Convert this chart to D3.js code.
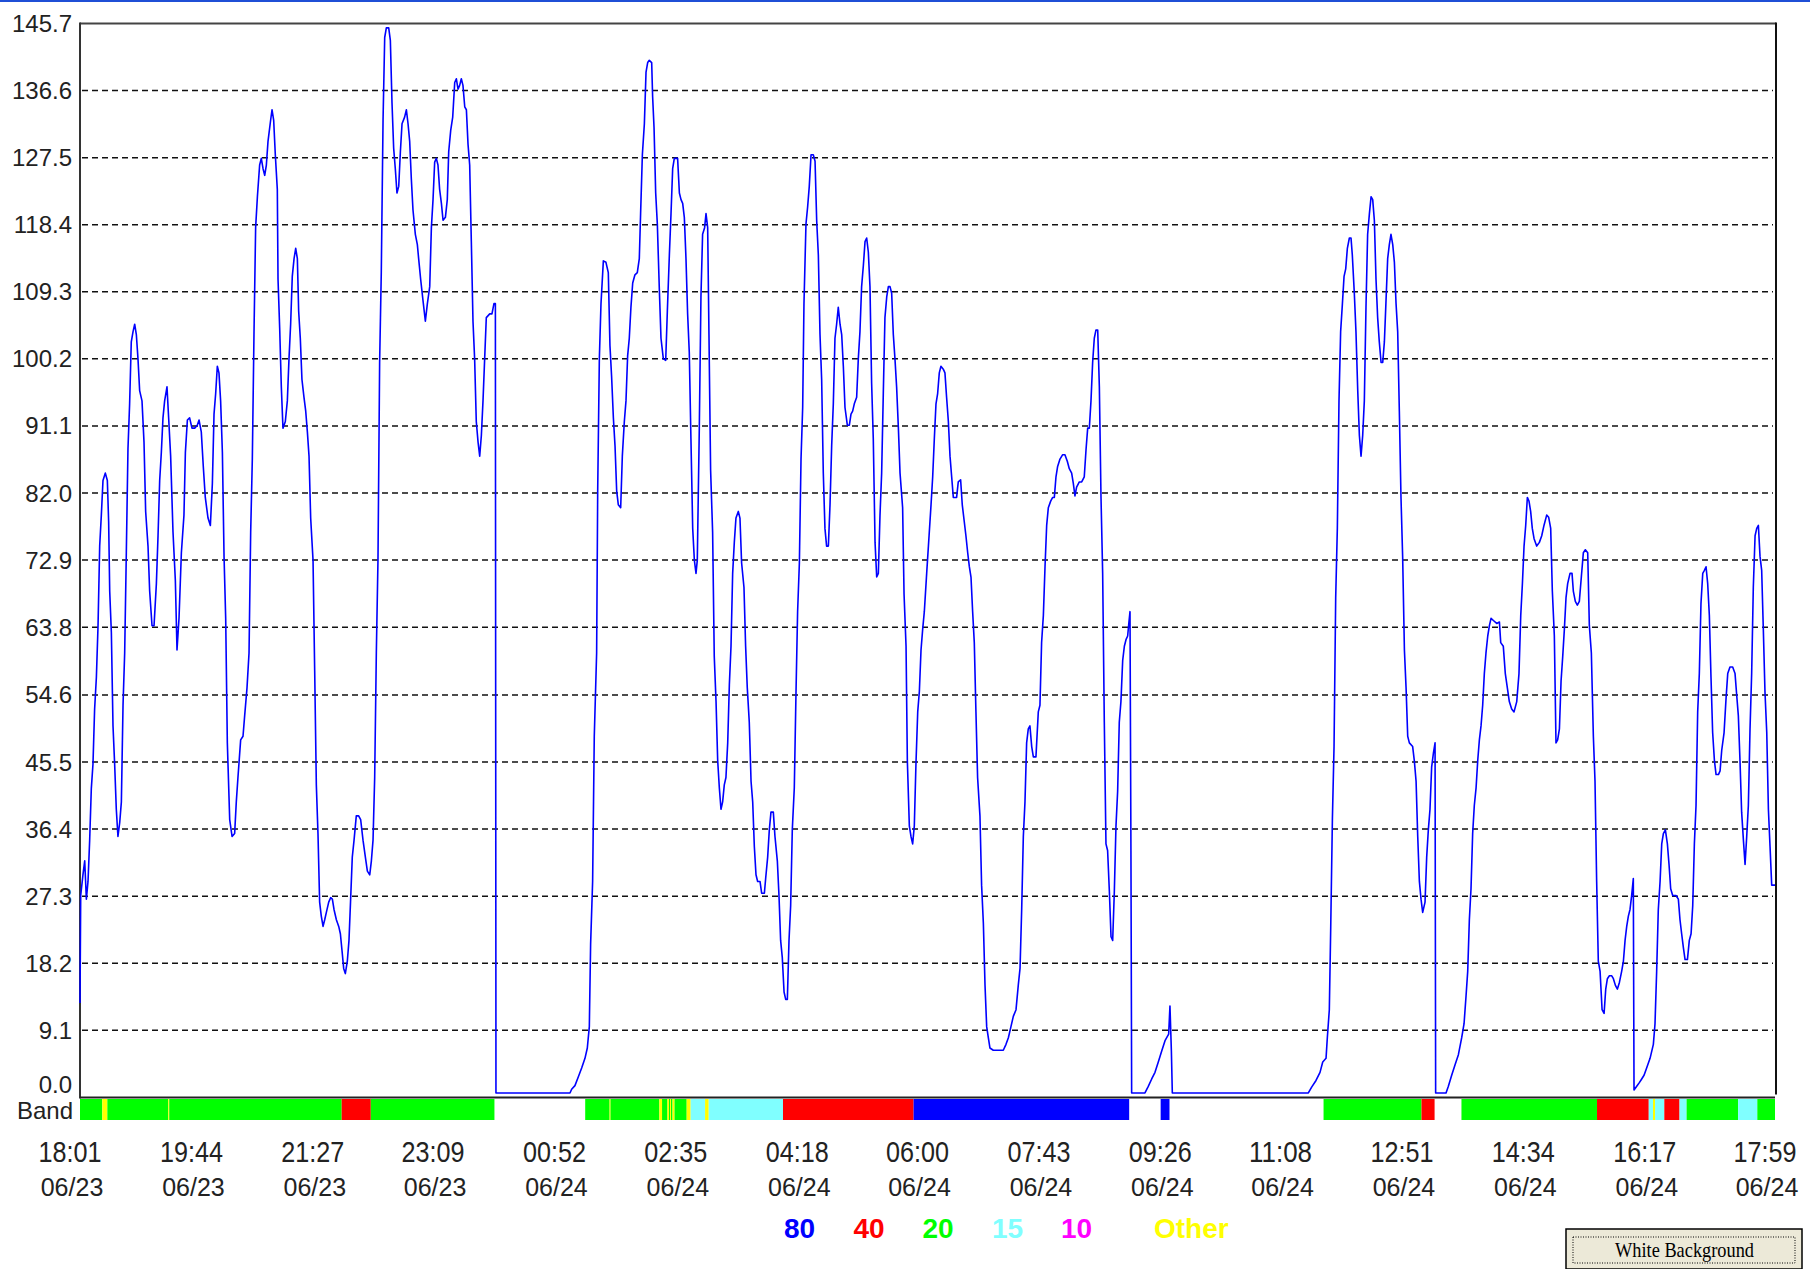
<!DOCTYPE html>
<html>
<head>
<meta charset="utf-8">
<script src="https://cdn.jsdelivr.net/npm/d3@7"></script>
<style>
  html, body { margin: 0; padding: 0; background: #fff; }
  svg { display: block; font-family: "Liberation Sans", Arial, sans-serif; }
</style>
</head>
<body>
<svg id="chart" width="1810" height="1269"></svg>
<script>
// Minutes after 18:01 06/23 and the reading at that moment
const seriesMinutes = [
    0, 0.6, 2.5, 4.0, 5.4, 6.8, 8.2, 9.6, 11.0, 12.4, 13.9, 15.3, 16.7, 18.1, 19.5, 21.5, 23.2, 24.3, 25.2, 26.6,
    28.0, 29.4, 30.8, 32.2, 33.7, 35.1, 36.5, 37.9, 39.3, 40.7, 42.1, 43.5, 45.0, 46.4, 47.8, 49.2, 50.6, 52.6, 54.3, 55.7,
    57.7, 59.1, 61.1, 62.8, 64.8, 66.2, 67.6, 69.0, 70.4, 71.8, 73.8, 75.2, 76.9, 78.9, 80.9, 82.3, 84.0, 86.0, 88.2, 89.4,
    91.1, 93.0, 95.0, 97.3, 99.5, 101.0, 102.9, 104.6, 106.3, 108.6, 110.6, 112.3, 113.7, 115.1, 116.5, 117.9, 119.3, 120.8, 122.2, 123.6,
    125.0, 127.0, 129.0, 131.2, 132.6, 134.0, 136.3, 138.3, 139.7, 141.7, 143.4, 144.8, 146.2, 147.6, 149.0, 150.5, 152.4, 153.8, 155.3, 156.7,
    158.1, 159.5, 161.5, 162.9, 164.3, 165.7, 167.4, 168.0, 169.4, 170.8, 172.2, 174.2, 175.9, 177.3, 178.7, 180.1, 181.6, 183.0, 184.4, 185.5,
    186.9, 188.3, 190.0, 191.5, 192.9, 194.3, 195.7, 197.7, 199.1, 200.5, 201.9, 203.3, 204.7, 206.2, 207.6, 209.0, 211.0, 212.7, 214.1, 215.5,
    217.5, 219.5, 220.9, 222.3, 223.7, 225.1, 226.8, 228.2, 229.6, 231.0, 232.5, 234.4, 236.4, 238.1, 240.1, 242.1, 243.8, 245.8, 247.2, 248.6,
    250.0, 251.4, 252.8, 254.2, 255.6, 257.1, 258.5, 259.9, 261.9, 263.3, 264.7, 266.1, 267.5, 268.9, 270.4, 271.8, 273.2, 275.4, 276.9, 278.3,
    279.7, 281.1, 282.5, 284.5, 286.2, 287.3, 289.0, 291.0, 293.0, 294.7, 296.7, 298.1, 299.5, 300.9, 302.3, 303.7, 305.1, 306.6, 308.0, 310.0,
    311.6, 312.8, 314.5, 316.2, 317.9, 319.3, 320.7, 322.1, 323.5, 324.9, 326.4, 327.8, 329.2, 330.6, 332.0, 333.4, 334.8, 336.2, 337.7, 339.1,
    340.5, 341.9, 343.3, 344.7, 347.6, 349.5, 351.2, 352.4, 352.9, 415.7, 417.1, 419.9, 422.8, 425.6, 428.4, 430.4, 432.1, 433.2, 434.9, 436.3,
    438.3, 439.2, 440.6, 442.0, 444.0, 446.2, 448.2, 449.6, 451.0, 452.5, 453.9, 455.3, 456.7, 458.7, 460.1, 461.8, 463.2, 464.6, 466.0, 467.4,
    468.9, 470.8, 472.8, 474.5, 475.6, 477.1, 478.8, 480.2, 481.6, 483.0, 485.0, 485.8, 487.0, 488.4, 489.8, 491.5, 492.9, 494.9, 496.9, 498.3,
    500.0, 501.4, 502.8, 504.2, 507.0, 508.5, 509.9, 511.3, 512.7, 514.1, 515.5, 516.9, 518.3, 519.8, 521.2, 522.6, 523.7, 525.4, 526.8, 528.2,
    529.9, 531.1, 532.5, 533.6, 535.0, 536.7, 538.1, 539.6, 541.0, 542.4, 543.8, 545.2, 546.6, 548.0, 549.5, 550.9, 552.3, 553.7, 555.1, 556.5,
    558.5, 559.9, 561.3, 563.3, 564.7, 566.1, 567.8, 569.3, 570.7, 572.1, 573.5, 574.9, 576.9, 578.3, 580.6, 581.7, 583.4, 584.8, 586.2, 588.2,
    589.6, 591.6, 593.0, 594.4, 595.8, 597.3, 598.7, 600.1, 601.5, 602.9, 604.3, 606.0, 607.4, 608.8, 610.3, 611.7, 613.1, 614.2, 615.9, 617.3,
    618.7, 620.2, 622.1, 623.6, 625.0, 626.4, 627.8, 629.2, 630.6, 632.0, 633.4, 634.9, 636.3, 637.7, 639.1, 640.5, 641.9, 643.3, 644.8, 646.2,
    647.6, 649.0, 651.0, 652.7, 654.1, 655.5, 656.9, 658.9, 660.3, 661.7, 663.1, 664.6, 666.0, 667.4, 668.8, 670.2, 671.6, 673.0, 674.5, 675.9,
    677.3, 678.7, 680.1, 681.5, 682.9, 684.4, 685.8, 687.2, 688.6, 690.0, 691.4, 692.8, 694.3, 695.7, 697.9, 699.1, 700.8, 701.9, 703.6, 705.0,
    706.4, 707.8, 709.2, 710.7, 712.1, 713.5, 714.9, 716.3, 718.3, 722.0, 723.4, 724.8, 726.2, 727.6, 729.0, 730.4, 732.4, 733.8, 735.2, 736.7,
    738.1, 739.5, 740.9, 743.7, 745.1, 747.1, 748.5, 750.2, 751.6, 753.1, 754.5, 755.9, 757.3, 758.7, 760.1, 761.5, 763.5, 764.9, 766.4, 767.8,
    769.2, 770.6, 772.0, 774.8, 783.3, 785.6, 787.6, 789.8, 791.8, 794.1, 796.0, 797.5, 798.9, 800.3, 801.7, 803.1, 804.5, 805.9, 807.4, 808.8,
    811.0, 813.0, 814.4, 815.8, 817.3, 818.7, 820.1, 821.5, 823.5, 825.2, 826.6, 828.0, 829.4, 831.4, 833.7, 835.6, 837.6, 839.3, 841.3, 842.7,
    844.1, 845.5, 847.8, 849.8, 852.0, 853.5, 854.9, 856.3, 857.7, 859.1, 860.5, 861.9, 863.4, 864.8, 866.2, 867.6, 869.0, 870.4, 871.8, 873.3,
    874.7, 876.1, 877.5, 878.9, 880.3, 881.7, 883.1, 884.6, 886.0, 887.4, 888.8, 889.9, 890.8, 891.6, 892.2, 903.5, 906.3, 909.2, 912.0, 914.8,
    917.7, 920.5, 923.6, 924.7, 925.9, 926.7, 1042.1, 1044.9, 1048.6, 1052.0, 1054.3, 1057.1, 1058.2, 1059.9, 1061.1, 1062.5, 1063.9, 1065.3, 1066.7, 1068.1,
    1069.5, 1071.0, 1072.4, 1073.8, 1075.2, 1076.9, 1078.3, 1079.4, 1081.1, 1082.5, 1084.0, 1085.4, 1086.8, 1088.2, 1089.6, 1091.0, 1092.4, 1093.9, 1095.3, 1096.7,
    1098.1, 1099.5, 1100.9, 1102.3, 1103.8, 1105.2, 1106.6, 1108.0, 1109.4, 1110.8, 1112.2, 1113.7, 1115.1, 1116.5, 1117.9, 1119.3, 1120.7, 1122.1, 1123.6, 1125.0,
    1126.4, 1127.8, 1130.6, 1132.0, 1133.5, 1134.9, 1136.3, 1137.7, 1139.1, 1141.1, 1142.5, 1143.9, 1145.3, 1146.7, 1148.2, 1149.6, 1150.1, 1158.9, 1160.9, 1163.7,
    1166.5, 1169.4, 1172.2, 1174.2, 1175.9, 1177.3, 1178.7, 1180.1, 1181.5, 1182.9, 1184.4, 1185.8, 1187.2, 1188.6, 1190.0, 1191.4, 1192.8, 1194.3, 1195.7, 1197.1,
    1199.1, 1201.9, 1204.2, 1205.3, 1207.5, 1209.2, 1210.9, 1212.6, 1214.6, 1216.6, 1218.9, 1220.8, 1222.3, 1223.7, 1225.1, 1226.5, 1227.9, 1229.3, 1230.7, 1232.1,
    1233.6, 1235.8, 1238.1, 1240.1, 1242.0, 1244.3, 1246.0, 1247.7, 1249.1, 1250.8, 1252.2, 1253.6, 1255.1, 1256.5, 1257.9, 1259.3, 1260.7, 1262.1, 1264.1, 1265.8,
    1266.9, 1268.6, 1270.3, 1272.0, 1273.7, 1275.4, 1277.1, 1279.1, 1280.5, 1282.2, 1283.9, 1285.3, 1286.7, 1288.1, 1289.6, 1291.3, 1293.0, 1294.4, 1295.8, 1297.5,
    1299.5, 1300.9, 1302.6, 1304.3, 1306.0, 1307.9, 1309.4, 1310.8, 1312.2, 1313.6, 1315.0, 1316.4, 1317.8, 1318.4, 1320.7, 1322.9, 1324.9, 1326.9, 1329.1, 1332.0,
    1334.8, 1336.2, 1337.6, 1339.0, 1340.5, 1341.9, 1343.3, 1345.0, 1346.7, 1348.1, 1349.5, 1351.2, 1354.0, 1356.0, 1357.4, 1358.8, 1360.3, 1361.7, 1363.7, 1365.3,
    1366.8, 1368.2, 1369.6, 1371.0, 1372.4, 1373.8, 1375.2, 1376.7, 1378.1, 1379.5, 1380.9, 1382.3, 1383.7, 1385.1, 1386.6, 1388.0, 1390.0, 1391.4, 1392.8, 1394.8,
    1396.5, 1397.9, 1399.8, 1402.1, 1404.1, 1405.5, 1406.9, 1408.3, 1409.7, 1411.2, 1412.6, 1414.0, 1415.4, 1416.8, 1418.2, 1419.6, 1421.1, 1422.5, 1423.9, 1425.3,
    1426.7, 1428.1, 1429.5, 1431.0, 1432.4, 1433.8, 1435.2, 1438.0
];

const seriesValues = [
    12.8, 27.4, 30.2, 32.1, 26.9, 29.3, 34.9, 41.9, 45.2, 52.7, 57.0, 64.0, 74.8, 79.0, 83.7, 84.7, 83.7, 78.1, 68.7, 63.1,
    50.4, 45.2, 39.1, 35.4, 37.3, 40.1, 53.2, 60.3, 73.9, 88.0, 94.1, 102.5, 103.9, 104.9, 103.5, 100.2, 95.9, 94.5, 88.9, 79.5,
    74.8, 68.7, 64.0, 64.0, 69.7, 76.2, 83.7, 87.5, 92.2, 94.5, 96.4, 92.2, 87.0, 76.7, 70.1, 60.7, 65.0, 73.9, 79.0, 87.5,
    91.9, 92.2, 90.8, 90.8, 91.2, 91.9, 90.3, 85.6, 81.4, 78.6, 77.6, 83.3, 92.7, 95.5, 99.2, 98.3, 94.5, 87.5, 73.4, 65.0,
    48.1, 37.7, 35.4, 35.8, 40.1, 43.4, 48.5, 49.0, 51.8, 55.6, 60.3, 76.7, 86.6, 103.5, 118.0, 122.2, 126.5, 127.4, 126.0, 125.1,
    126.5, 129.7, 132.3, 134.0, 132.6, 127.9, 123.2, 111.0, 104.4, 96.4, 90.8, 91.7, 94.5, 100.2, 104.9, 111.4, 113.8, 115.2, 113.8, 106.7,
    103.0, 97.4, 95.0, 93.1, 90.3, 87.0, 78.6, 72.9, 57.9, 42.4, 35.8, 26.5, 24.6, 23.2, 24.1, 25.1, 26.5, 27.1, 26.9, 25.5,
    24.1, 23.2, 22.2, 19.9, 17.5, 16.8, 18.5, 21.3, 26.9, 32.6, 34.9, 38.2, 38.2, 37.7, 34.9, 32.6, 30.7, 30.2, 32.1, 34.9,
    43.4, 60.3, 72.9, 99.7, 111.9, 132.6, 143.8, 145.1, 145.1, 143.4, 134.9, 128.8, 126.0, 122.7, 123.6, 128.3, 132.1, 133.0, 134.0, 132.1,
    129.7, 124.6, 120.4, 117.1, 115.7, 113.8, 111.0, 108.1, 105.3, 107.7, 110.0, 118.0, 121.8, 126.9, 127.4, 126.5, 123.2, 121.3, 119.0, 119.4,
    121.8, 128.3, 131.2, 133.0, 137.7, 138.2, 136.8, 137.3, 138.2, 137.3, 134.4, 134.0, 129.3, 126.5, 116.1, 105.3, 100.2, 91.7, 88.9, 87.0,
    89.8, 94.5, 100.2, 105.8, 106.3, 106.3, 107.7, 107.7, 0.6, 0.6, 1.1, 1.6, 2.8, 4.0, 5.3, 6.7, 9.6, 20.8, 29.3, 49.0,
    60.3, 82.3, 100.2, 107.7, 113.5, 113.3, 111.9, 102.0, 97.8, 92.2, 88.4, 82.3, 80.4, 80.0, 87.0, 91.7, 94.5, 100.6, 103.0, 107.2,
    110.5, 111.6, 111.9, 113.8, 119.9, 127.9, 132.1, 139.1, 140.4, 140.7, 140.4, 135.8, 131.6, 122.7, 118.5, 109.6, 103.0, 100.2, 100.0, 106.7,
    114.3, 119.9, 126.0, 127.4, 127.4, 122.7, 121.8, 121.3, 119.4, 113.8, 106.3, 101.1, 89.4, 77.2, 72.9, 71.1, 72.9, 90.8, 108.6, 117.1,
    118.0, 119.9, 118.0, 103.5, 85.1, 76.7, 59.8, 53.7, 45.7, 42.0, 39.1, 40.1, 42.4, 43.4, 48.1, 56.0, 61.2, 71.1, 75.3, 78.6,
    79.5, 78.6, 72.5, 69.2, 61.2, 55.6, 50.9, 42.9, 40.1, 34.0, 30.2, 29.3, 29.3, 27.7, 27.7, 29.7, 32.6, 36.3, 38.7, 38.7,
    35.4, 32.1, 27.4, 21.3, 19.0, 14.3, 13.3, 13.3, 21.3, 26.0, 36.3, 42.0, 54.6, 65.9, 72.5, 86.6, 93.6, 107.7, 118.5, 120.8,
    123.6, 127.9, 127.9, 127.0, 118.9, 114.3, 103.5, 97.4, 84.7, 77.2, 74.8, 74.8, 80.4, 88.4, 94.1, 103.0, 104.9, 107.2, 104.9, 103.5,
    99.2, 93.6, 91.2, 91.2, 92.7, 93.1, 94.1, 95.0, 100.2, 103.9, 110.0, 112.9, 116.1, 116.6, 114.7, 110.0, 96.9, 89.4, 75.3, 70.6,
    71.1, 79.0, 84.7, 95.5, 105.8, 108.6, 110.0, 110.0, 109.1, 103.5, 100.2, 96.4, 90.8, 84.7, 80.0, 68.3, 61.2, 45.7, 36.8, 35.4,
    34.4, 36.8, 45.2, 52.3, 55.1, 60.7, 63.5, 65.9, 71.1, 80.4, 84.2, 89.4, 94.1, 95.5, 98.3, 99.2, 98.8, 98.3, 95.0, 91.7,
    87.0, 84.2, 81.4, 81.4, 83.5, 83.8, 80.4, 78.1, 76.2, 73.9, 72.0, 70.6, 65.9, 61.7, 52.3, 43.4, 38.2, 28.8, 23.6, 15.2,
    9.6, 8.1, 6.7, 6.4, 6.4, 7.2, 8.1, 9.6, 11.0, 11.9, 15.2, 17.5, 25.5, 35.4, 40.1, 48.1, 50.0, 50.4, 47.6, 46.2,
    46.2, 52.3, 53.2, 61.7, 65.4, 72.0, 77.6, 80.0, 80.9, 81.4, 81.4, 84.2, 85.6, 86.6, 87.2, 87.2, 86.3, 85.3, 84.7, 83.3,
    81.6, 82.8, 83.5, 83.5, 84.2, 87.9, 90.8, 90.8, 94.5, 99.7, 103.0, 104.1, 104.1, 96.4, 81.4, 71.1, 50.9, 34.4, 33.5, 27.9,
    21.8, 21.3, 27.9, 36.8, 41.5, 50.9, 53.7, 59.3, 61.2, 62.1, 62.6, 64.5, 65.9, 33.0, 0.6, 0.6, 1.5, 2.5, 3.4, 4.8,
    6.3, 7.7, 8.6, 12.4, 6.3, 0.6, 0.6, 1.4, 2.3, 3.4, 4.8, 5.3, 8.1, 11.9, 23.2, 37.7, 47.6, 67.8, 77.2, 94.5,
    103.9, 107.7, 111.4, 112.4, 115.2, 116.6, 116.6, 114.3, 109.1, 103.9, 95.9, 89.8, 87.0, 89.8, 94.5, 107.2, 117.1, 119.9, 122.2, 121.8,
    119.0, 111.0, 105.8, 102.5, 99.7, 99.7, 102.5, 108.1, 113.8, 115.7, 117.1, 115.7, 113.3, 107.7, 103.9, 93.1, 81.4, 73.4, 60.7, 55.6,
    49.0, 48.1, 47.6, 45.7, 42.9, 35.4, 29.3, 26.9, 25.1, 26.5, 32.6, 36.3, 39.1, 44.8, 46.7, 48.1, 0.6, 0.6, 1.5, 3.0,
    4.4, 5.8, 8.1, 10.0, 13.8, 17.1, 24.1, 28.3, 35.8, 39.6, 42.0, 45.7, 48.5, 50.4, 53.2, 57.5, 60.3, 62.6, 64.0, 65.0,
    64.7, 64.3, 64.5, 61.7, 61.2, 57.5, 55.6, 53.7, 52.7, 52.3, 53.7, 57.5, 65.4, 69.7, 74.8, 77.6, 81.4, 80.9, 79.5, 77.2,
    75.8, 74.8, 75.3, 76.2, 77.6, 79.0, 78.7, 77.2, 68.7, 62.6, 48.1, 48.5, 50.0, 56.5, 59.8, 63.5, 67.8, 69.7, 71.1, 71.1,
    68.7, 67.3, 66.8, 67.3, 70.6, 73.9, 74.3, 73.9, 64.0, 60.3, 49.0, 42.9, 29.3, 18.5, 17.1, 11.9, 11.4, 14.7, 16.1, 16.5,
    16.5, 16.1, 15.2, 14.7, 15.6, 17.1, 18.5, 21.3, 23.2, 24.6, 25.5, 27.4, 29.7, 1.0, 1.5, 2.0, 2.5, 3.0, 4.0, 5.3,
    7.2, 10.0, 17.1, 25.5, 29.3, 34.4, 35.8, 36.3, 34.4, 31.6, 28.3, 27.4, 27.4, 26.9, 24.1, 22.2, 20.3, 18.7, 18.7, 21.3,
    22.2, 26.0, 34.4, 39.6, 52.3, 57.5, 67.0, 71.1, 71.5, 72.0, 69.7, 65.4, 57.0, 49.5, 45.7, 43.8, 43.8, 44.3, 47.1, 49.5,
    54.2, 57.5, 58.4, 58.4, 57.5, 54.6, 51.8, 45.7, 38.7, 34.9, 31.6, 35.4, 39.6, 49.9, 57.5, 69.2, 76.2, 77.2, 77.6, 73.4,
    71.5, 63.5, 55.0, 49.5, 39.1, 34.0, 28.8, 28.8
];

// Band strip: start / end minute and band code
const bandStart = [0, 18.9, 23.2, 74.9, 75.7, 222.0, 246.7, 428.6, 449.3, 450.1, 491.5, 493.8, 498.4, 499.7, 500.6, 501.4, 502.7, 504.4, 514.7, 518.1,
    530.3, 533.4, 596.4, 707.2, 916.8, 1055.0, 1138.1, 1172.0, 1287.0, 1330.9, 1334.5, 1336.2, 1344.1, 1357.0, 1363.0, 1406.7, 1423.0];
const bandEnd = [18.9, 23.2, 74.9, 75.7, 222.0, 246.7, 351.6, 449.3, 450.1, 491.5, 493.8, 498.4, 499.7, 500.6, 501.4, 502.7, 504.4, 514.7, 518.1, 530.3,
    533.4, 596.4, 707.2, 890.1, 924.3, 1138.1, 1149.2, 1287.0, 1330.9, 1334.5, 1336.2, 1344.1, 1357.0, 1363.0, 1406.7, 1423.0, 1438];
const bandCode = ['20', 'Other', '20', 'Other', '20', '40', '20', '20', 'Other', '20', 'Other', '20', 'Other', '20', 'Other', '20', 'Other', '20', 'Other', '15',
    'Other', '15', '40', '80', '80', '20', '40', '20', '40', '15', 'Other', '15', '40', '15', '20', '15', '20'];

const legendLabels = ['80', '40', '20', '15', '10', 'Other'];
const legendColors = ['#0000ff', '#ff0000', '#00ff00', '#80ffff', '#ff00ff', '#ffff00'];

const yTickLabels = ['0.0', '9.1', '18.2', '27.3', '36.4', '45.5', '54.6', '63.8', '72.9', '82.0', '91.1', '100.2', '109.3', '118.4', '127.5', '136.6', '145.7'];
const timeLabels = ['18:01', '19:44', '21:27', '23:09', '00:52', '02:35', '04:18', '06:00', '07:43', '09:26', '11:08', '12:51', '14:34', '16:17', '17:59'];
const dateLabels = ['06/23', '06/23', '06/23', '06/23', '06/24', '06/24', '06/24', '06/24', '06/24', '06/24', '06/24', '06/24', '06/24', '06/24', '06/24'];

const svg = d3.select('#chart');

const plotLeft = 80, plotRight = 1775, plotTop = 23.5, plotBottom = 1097.4;
const x = d3.scaleLinear().domain([0, 1438]).range([plotLeft, plotRight]);
const y = d3.scaleLinear().domain([0, 145.7]).range([plotBottom, plotTop]);
const bandColor = d3.scaleOrdinal().domain(legendLabels).range(legendColors);

// window edge at the top
svg.append('rect').attr('x', 0).attr('y', 0).attr('width', 1810).attr('height', 2).attr('fill', '#1f4fd6');

// dashed grid
const yTicks = yTickLabels.map(Number);
svg.append('g')
    .selectAll('line')
    .data(yTicks.slice(1, -1))
    .enter().append('line')
    .attr('x1', plotLeft + 2).attr('x2', plotRight - 2)
    .attr('y1', d => y(d)).attr('y2', d => y(d))
    .attr('stroke', '#111')
    .attr('stroke-width', 1.5)
    .attr('stroke-dasharray', '6,4');

// frame
const frame = svg.append('g').attr('stroke-width', 2).attr('fill', 'none');
frame.append('line').attr('x1', plotLeft).attr('x2', plotRight + 1).attr('y1', plotTop).attr('y2', plotTop).attr('stroke', '#444');
frame.append('line').attr('x1', plotLeft).attr('x2', plotLeft).attr('y1', plotTop - 1).attr('y2', plotBottom + 1).attr('stroke', '#333');
frame.append('line').attr('x1', plotRight + 1).attr('x2', plotRight + 1).attr('y1', plotTop - 1).attr('y2', plotBottom - 3).attr('stroke', '#111');
frame.append('line').attr('x1', plotLeft).attr('x2', plotRight).attr('y1', plotBottom).attr('y2', plotBottom).attr('stroke', '#222');

// y labels
svg.append('g')
    .selectAll('text')
    .data(yTickLabels)
    .enter().append('text')
    .attr('x', 72)
    .attr('y', (d, i) => i === 0 ? 1093 : y(yTicks[i]) + 8.5)
    .attr('text-anchor', 'end')
    .attr('font-size', '24px')
    .attr('fill', '#222')
    .text(d => d);

// series line
const points = seriesMinutes.map((t, i) => [t, seriesValues[i]]);
const line = d3.line().x(d => x(d[0])).y(d => y(d[1]));
svg.append('path')
    .datum(points)
    .attr('d', line)
    .attr('fill', 'none')
    .attr('stroke', '#0000ff')
    .attr('stroke-width', 1.6)
    .attr('stroke-linejoin', 'round');

// band strip
svg.append('g')
    .selectAll('rect')
    .data(bandStart)
    .enter().append('rect')
    .attr('x', (d, i) => x(d))
    .attr('y', 1099)
    .attr('width', (d, i) => Math.max(1, x(bandEnd[i]) - x(d)))
    .attr('height', 21)
    .attr('fill', (d, i) => bandColor(bandCode[i]));

svg.append('text')
    .attr('x', 17).attr('y', 1119)
    .attr('font-size', '24px').attr('fill', '#222')
    .text('Band');

// time axis labels
const tickMinutes = timeLabels.map((t, i) => {
    const [h, m] = t.split(':').map(Number);
    const day = +dateLabels[i].split('/')[1] - 23;
    return day * 1440 + h * 60 + m - (18 * 60 + 1);
});

svg.append('g')
    .selectAll('text')
    .data(timeLabels)
    .enter().append('text')
    .attr('x', (d, i) => x(tickMinutes[i]) - 10 - 31.5)
    .attr('y', 1162)
    .attr('font-size', '30px')
    .attr('textLength', 63)
    .attr('lengthAdjust', 'spacingAndGlyphs')
    .attr('fill', '#222')
    .text(d => d);

svg.append('g')
    .selectAll('text')
    .data(dateLabels)
    .enter().append('text')
    .attr('x', (d, i) => x(tickMinutes[i]) - 8)
    .attr('y', 1196)
    .attr('text-anchor', 'middle')
    .attr('font-size', '25px')
    .attr('fill', '#222')
    .text(d => d);

// legend
const legendLeft = [784, 853.5, 922.5, 992, 1061, 1154];
svg.append('g')
    .selectAll('text')
    .data(legendLabels)
    .enter().append('text')
    .attr('x', (d, i) => legendLeft[i])
    .attr('y', 1238)
    .attr('font-size', '28px')
    .attr('font-weight', 'bold')
    .attr('fill', (d, i) => legendColors[i])
    .text(d => d);

// button
const btn = svg.append('g');
btn.append('rect').attr('x', 1566).attr('y', 1229).attr('width', 236).attr('height', 40)
    .attr('fill', '#ece9d8').attr('stroke', '#000').attr('stroke-width', 1.5);
btn.append('rect').attr('x', 1573).attr('y', 1237).attr('width', 222).attr('height', 26)
    .attr('fill', 'none').attr('stroke', '#000').attr('stroke-width', 1).attr('stroke-dasharray', '1,1.5');
btn.append('text')
    .attr('x', 1615).attr('y', 1257)
    .attr('font-family', '"Liberation Serif", serif')
    .attr('font-size', '22px')
    .attr('textLength', 139)
    .attr('lengthAdjust', 'spacingAndGlyphs')
    .attr('fill', '#000')
    .text('White Background');
</script>
</body>
</html>
